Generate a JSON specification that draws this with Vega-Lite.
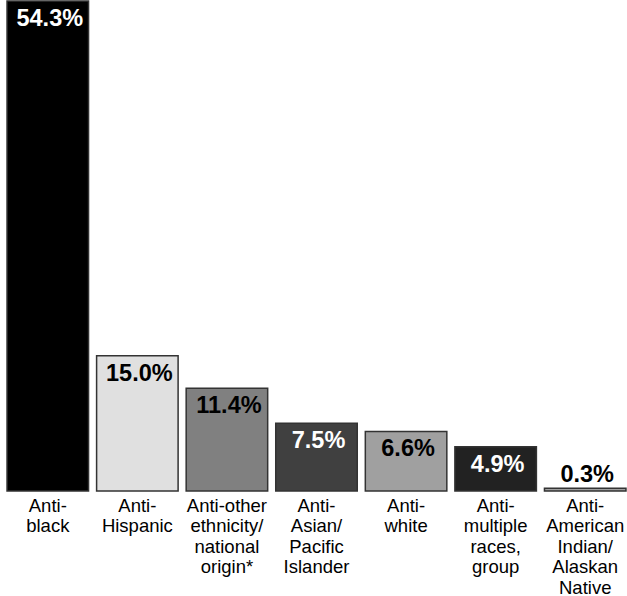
{
  "$schema": "https://vega.github.io/schema/vega-lite/v6.json",
  "width": 627,
  "height": 490,
  "padding": {"left": 3, "top": 0, "right": 0, "bottom": 0},
  "background": "white",
  "config": {"view": {"stroke": null}, "font": "Liberation Sans"},
  "data": {
    "values": [
      {"cat": "Anti-|black", "v": 54.3, "label": "54.3%", "fill": "a"},
      {"cat": "Anti-|Hispanic", "v": 15.0, "label": "15.0%", "fill": "b"},
      {"cat": "Anti-other|ethnicity/|national|origin*", "v": 11.4, "label": "11.4%", "fill": "c"},
      {"cat": "Anti-|Asian/|Pacific|Islander", "v": 7.5, "label": "7.5%", "fill": "d"},
      {"cat": "Anti-|white", "v": 6.6, "label": "6.6%", "fill": "e"},
      {"cat": "Anti-|multiple|races,|group", "v": 4.9, "label": "4.9%", "fill": "f"},
      {"cat": "Anti-|American|Indian/|Alaskan|Native", "v": 0.3, "label": "0.3%", "fill": "g"}
    ]
  },
  "encoding": {
    "x": {
      "field": "cat",
      "type": "nominal",
      "sort": null,
      "scale": {"paddingInner": 0.09, "paddingOuter": 0.045},
      "axis": {
        "title": null,
        "domain": false,
        "ticks": false,
        "labelAngle": 0,
        "labelExpr": "split(datum.label, '|')",
        "labelFontSize": 18.5,
        "labelLineHeight": 20.5,
        "labelColor": "black",
        "labelPadding": 5,
        "labelBaseline": "top",
        "labelFont": "Liberation Sans"
      }
    },
    "y": {
      "field": "v",
      "type": "quantitative",
      "scale": {"domain": [0, 54.3], "nice": false},
      "axis": null
    }
  },
  "layer": [
    {
      "mark": {"type": "bar", "stroke": "#333333", "strokeWidth": 1.5, "clip": false},
      "encoding": {
        "fill": {
          "field": "fill",
          "type": "nominal",
          "scale": {
            "domain": ["a", "b", "c", "d", "e", "f", "g"],
            "range": ["#000000", "#e0e0e0", "#808080", "#404040", "#a0a0a0", "#222222", "#a0a0a0"]
          },
          "legend": null
        }
      }
    },
    {
      "transform": [{"filter": "datum.v >= 1"}],
      "mark": {"type": "text", "fontSize": 23.5, "fontWeight": "bold", "font": "Liberation Sans", "baseline": "alphabetic", "dy": 25, "dx": 2, "align": "center"},
      "encoding": {
        "text": {"field": "label"},
        "color": {
          "condition": {"test": "datum.fill == 'a' || datum.fill == 'd' || datum.fill == 'f'", "value": "white"},
          "value": "black"
        }
      }
    },
    {
      "transform": [{"filter": "datum.v < 1"}],
      "mark": {"type": "text", "fontSize": 23.5, "fontWeight": "bold", "font": "Liberation Sans", "baseline": "alphabetic", "dy": -6, "dx": 2, "align": "center", "color": "black"},
      "encoding": {
        "text": {"field": "label"}
      }
    }
  ]
}
